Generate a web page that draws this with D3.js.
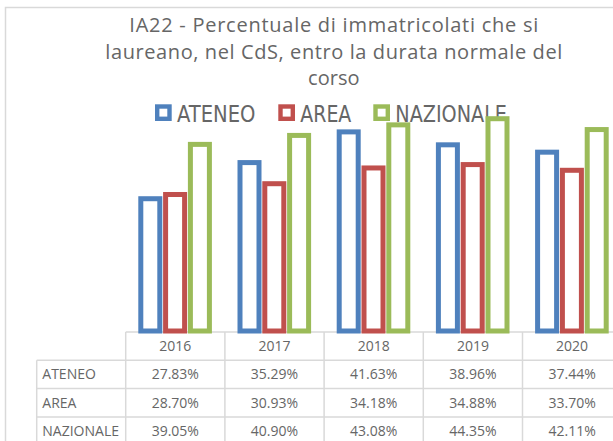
<!DOCTYPE html>
<html>
<head>
<meta charset="utf-8">
<script src="https://cdn.jsdelivr.net/npm/d3@7"></script>
<style>
  body { margin: 0; background: #fff; }
  svg { display: block; }
</style>
</head>
<body>
<svg></svg>
<script>
// Data
const years = ["2016", "2017", "2018", "2019", "2020"];
const seriesNames = ["ATENEO", "AREA", "NAZIONALE"];
const ateneo = [27.83, 35.29, 41.63, 38.96, 37.44];
const area = [28.70, 30.93, 34.18, 34.88, 33.70];
const nazionale = [39.05, 40.90, 43.08, 44.35, 42.11];
const titleLines = [
  "IA22 - Percentuale di immatricolati che si",
  "laureano, nel CdS, entro la durata normale del",
  "corso"
];

const seriesValues = [ateneo, area, nazionale];
const colors = ["#4F81BD", "#C0504D", "#9BBB59"];

// Constants
const width = 613;
const height = 441;
const baseline = 331;
const gridColor = "#D9D9D9";
const textColor = "#666666";
const stroke = 5;

const svg = d3.select("svg")
    .attr("width", width)
    .attr("height", height);

// Scales
const xScale = d3.scaleBand()
    .domain(years)
    .range([125.7, 125.7 + 5 * 99.2]);

const subScale = d3.scaleBand()
    .domain(seriesNames)
    .range([12.6, 12.6 + 74.4]);

const yScale = d3.scaleLinear()
    .domain([0, 50])
    .range([baseline, baseline - 242.15]);

const rowScale = d3.scaleBand()
    .domain(["header"].concat(seriesNames))
    .range([332, 332 + 4 * 28.3]);

// Chart border
svg.append("rect")
    .attr("x", 5.5)
    .attr("y", 7.5)
    .attr("width", 700)
    .attr("height", 500)
    .attr("fill", "none")
    .attr("stroke", gridColor)
    .attr("stroke-width", 1.5);

// Title
svg.append("g")
  .selectAll("text")
  .data(titleLines)
  .enter()
    .append("text")
    .attr("x", 333.8)
    .attr("y", (d, i) => [31.7, 58.5, 84.5][i])
    .attr("text-anchor", "middle")
    .attr("font-family", "'Open Sans', sans-serif")
    .attr("font-size", 20)
    .attr("fill", textColor)
    .each(function(d, i) {
      const len = [409, 457, null][i];
      if (len) d3.select(this).attr("textLength", len).attr("lengthAdjust", "spacing");
    })
    .text(d => d);

// Legend
const legendX = [155, 278.3, 373.3];
const legendW = [78.4, 51, 111.7];
const legend = svg.append("g")
  .selectAll("g")
  .data(seriesNames)
  .enter()
    .append("g")
    .attr("transform", (d, i) => `translate(${legendX[i]},104.3)`);

legend.append("rect")
    .attr("x", 2.2)
    .attr("y", 2.2)
    .attr("width", 12.3)
    .attr("height", 12.3)
    .attr("fill", "#fff")
    .attr("stroke", (d, i) => colors[i])
    .attr("stroke-width", 4.4);

legend.append("text")
    .attr("x", 22)
    .attr("y", 17.2)
    .attr("font-family", "'Liberation Sans Narrow', 'DejaVu Sans Condensed', sans-serif")
    .attr("font-size", 23)
    .attr("fill", textColor)
    .attr("textLength", (d, i) => legendW[i])
    .attr("lengthAdjust", "spacingAndGlyphs")
    .text(d => d);

// Table grid
const table = svg.append("g")
    .attr("stroke", gridColor)
    .attr("stroke-width", 1.5);

const tableBottom = 450;
const labelLeft = 36.7;
const xEnd = xScale.range()[1];

table.selectAll("line.v")
  .data(years.concat(["end"]))
  .enter()
    .append("line")
    .attr("x1", d => d === "end" ? xEnd : xScale(d))
    .attr("x2", d => d === "end" ? xEnd : xScale(d))
    .attr("y1", rowScale("header"))
    .attr("y2", tableBottom);

table.append("line")
    .attr("x1", labelLeft)
    .attr("x2", labelLeft)
    .attr("y1", rowScale(seriesNames[0]))
    .attr("y2", tableBottom);

table.append("line")
    .attr("x1", xScale.range()[0])
    .attr("x2", xEnd)
    .attr("y1", rowScale("header"))
    .attr("y2", rowScale("header"));

table.selectAll("line.h")
  .data(seriesNames)
  .enter()
    .append("line")
    .attr("x1", labelLeft)
    .attr("x2", xEnd)
    .attr("y1", d => rowScale(d))
    .attr("y2", d => rowScale(d));

// Bars
const groups = svg.append("g")
  .selectAll("g")
  .data(years)
  .enter()
    .append("g")
    .attr("transform", d => `translate(${xScale(d)},0)`);

groups.selectAll("rect")
  .data((d, yi) => seriesNames.map((s, si) => ({ s, si, v: seriesValues[si][yi] })))
  .enter()
    .append("rect")
    .attr("x", d => subScale(d.s) + stroke / 2)
    .attr("y", d => yScale(d.v) + stroke / 2)
    .attr("width", subScale.bandwidth() - stroke - 0.8)
    .attr("height", d => baseline - yScale(d.v) - stroke / 2)
    .attr("fill", "#fff")
    .attr("stroke", d => colors[d.si])
    .attr("stroke-width", stroke);

// Table text
const textStyle = sel => sel
    .attr("font-family", "'Open Sans', sans-serif")
    .attr("font-size", 14)
    .attr("fill", textColor)
    .attr("dy", "0.36em");

svg.append("g")
  .selectAll("text")
  .data(years)
  .enter()
    .append("text")
    .attr("x", d => xScale(d) + xScale.bandwidth() / 2)
    .attr("y", rowScale("header") + rowScale.bandwidth() / 2)
    .attr("text-anchor", "middle")
    .call(textStyle)
    .text(d => d);

svg.append("g")
  .selectAll("text")
  .data(seriesNames)
  .enter()
    .append("text")
    .attr("x", 42.3)
    .attr("y", d => rowScale(d) + rowScale.bandwidth() / 2)
    .call(textStyle)
    .text(d => d);

seriesNames.forEach((s, si) => {
  svg.append("g")
    .selectAll("text")
    .data(seriesValues[si])
    .enter()
      .append("text")
      .attr("x", (d, i) => xScale(years[i]) + xScale.bandwidth() / 2)
      .attr("y", rowScale(s) + rowScale.bandwidth() / 2)
      .attr("text-anchor", "middle")
      .call(textStyle)
      .text(d => d.toFixed(2) + "%");
});
</script>
</body>
</html>
